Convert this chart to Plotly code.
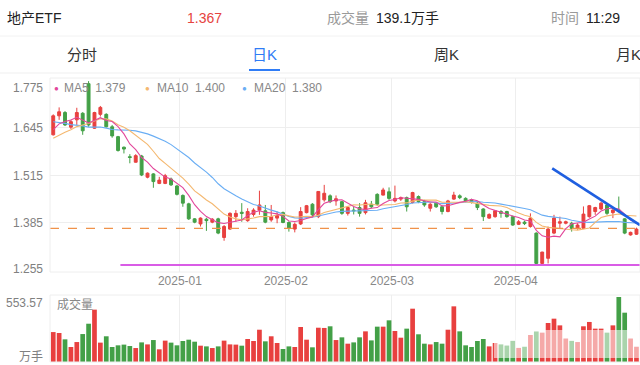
import numpy as np
import plotly.graph_objects as go

# ---------------- data ----------------
prior_close = [1.72, 1.71, 1.73, 1.70, 1.69, 1.72, 1.70, 1.68, 1.71, 1.70,
               1.60, 1.58, 1.59, 1.60, 1.59, 1.61, 1.62, 1.64, 1.65]

open_ = [1.625,1.677,1.686,1.646,1.666,1.684,1.765,1.643,1.681,1.681,
         1.647,1.620,1.591,1.565,1.550,1.567,1.509,1.518,1.492,1.492,
         1.504,1.485,1.459,1.436,1.395,1.381,1.394,1.386,1.395,1.344,
         1.367,1.401,1.413,1.390,1.407,1.419,1.417,1.392,1.397,1.412,
         1.385,1.367,1.381,1.412,1.435,1.401,1.447,1.458,1.444,1.442,
         1.410,1.419,1.426,1.412,1.435,1.462,1.460,1.469,1.444,1.449,
         1.453,1.440,1.456,1.442,1.424,1.438,1.428,1.415,1.449,1.458,
         1.451,1.447,1.438,1.422,1.397,1.401,1.415,1.415,1.401,1.380,
         1.386,1.374,1.356,1.273,1.287,1.356,1.383,1.383,1.383,1.369,
         1.369,1.401,1.415,1.422,1.433,1.412,1.419,1.395,1.351,1.353]
high = [1.681,1.700,1.690,1.666,1.699,1.687,1.772,1.688,1.704,1.684,
        1.652,1.622,1.593,1.572,1.572,1.570,1.522,1.520,1.510,1.518,
        1.508,1.488,1.462,1.439,1.397,1.399,1.398,1.397,1.398,1.378,
        1.413,1.419,1.438,1.424,1.424,1.472,1.433,1.433,1.415,1.415,
        1.388,1.385,1.427,1.433,1.438,1.471,1.488,1.462,1.459,1.444,
        1.428,1.428,1.438,1.447,1.444,1.465,1.480,1.481,1.486,1.456,
        1.456,1.469,1.459,1.447,1.438,1.440,1.431,1.447,1.469,1.462,
        1.454,1.450,1.442,1.424,1.410,1.419,1.419,1.417,1.404,1.392,
        1.390,1.410,1.358,1.305,1.374,1.406,1.401,1.390,1.387,1.383,
        1.429,1.433,1.428,1.442,1.438,1.424,1.456,1.397,1.360,1.371]
low = [1.623,1.666,1.649,1.641,1.652,1.625,1.647,1.641,1.675,1.645,
       1.617,1.579,1.574,1.547,1.549,1.512,1.506,1.480,1.490,1.490,
       1.485,1.459,1.428,1.392,1.383,1.374,1.362,1.383,1.353,1.335,
       1.365,1.387,1.387,1.387,1.401,1.406,1.383,1.387,1.383,1.383,
       1.360,1.358,1.378,1.410,1.401,1.397,1.442,1.438,1.431,1.406,
       1.404,1.407,1.401,1.407,1.424,1.431,1.459,1.447,1.440,1.444,
       1.415,1.437,1.438,1.428,1.415,1.425,1.407,1.413,1.447,1.449,
       1.440,1.437,1.419,1.389,1.395,1.398,1.398,1.398,1.376,1.378,
       1.378,1.371,1.271,1.271,1.273,1.353,1.369,1.380,1.360,1.365,
       1.367,1.398,1.406,1.419,1.406,1.397,1.413,1.353,1.349,1.351]
close = [1.677,1.688,1.652,1.661,1.686,1.636,1.652,1.686,1.700,1.647,
         1.622,1.582,1.586,1.563,1.568,1.515,1.520,1.497,1.501,1.513,
         1.488,1.462,1.438,1.395,1.386,1.397,1.390,1.394,1.356,1.374,
         1.410,1.410,1.410,1.415,1.419,1.433,1.386,1.401,1.404,1.385,
         1.369,1.380,1.415,1.431,1.406,1.470,1.465,1.442,1.450,1.410,
         1.426,1.417,1.410,1.439,1.428,1.435,1.474,1.451,1.451,1.453,
         1.428,1.467,1.442,1.433,1.435,1.428,1.415,1.444,1.460,1.453,
         1.444,1.440,1.426,1.401,1.407,1.417,1.410,1.401,1.378,1.387,
         1.382,1.397,1.273,1.304,1.367,1.397,1.387,1.387,1.369,1.378,
         1.408,1.431,1.426,1.438,1.410,1.419,1.415,1.356,1.358,1.367]
volume = [255,247,193,128,170,238,326,446,165,219,
          128,142,148,136,119,167,150,187,108,182,
          165,142,179,190,173,139,133,119,133,182,
          150,148,139,196,179,275,176,219,162,111,
          133,128,298,190,125,292,290,304,187,210,
          156,167,210,261,184,301,301,355,264,207,
          284,454,236,156,150,170,156,275,474,261,
          142,128,179,196,133,162,150,140,180,120,
          130,230,260,250,332,369,312,200,180,170,
          304,341,284,284,250,312,553.57,420,200,130]

month_ticks = [21.5, 39.5, 57.5, 78.5]
month_labels = ["2025-01", "2025-02", "2025-03", "2025-04"]
price_ticks = [1.775, 1.645, 1.515, 1.385, 1.255]
price_labels = ["1.775", "1.645", "1.515", "1.385", "1.255"]
ref_price = 1.369
support_x = [11.4, 99.6]
support_y = [1.269, 1.269]
trend_x = [84.7, 99.6]
trend_y = [1.533, 1.378]

# ---------------- derived ----------------
RED = "#e8403f"
GREEN = "#43a047"
n = len(close)
x = np.arange(n)
allc = np.array(prior_close + close)
def ma(k):
    return [allc[len(prior_close) + i - k + 1: len(prior_close) + i + 1].mean() for i in range(n)]
ma5, ma10, ma20 = ma(5), ma(10), ma(20)
vcol = [RED if c >= o else GREEN for o, c in zip(open_, close)]

W, H = 640, 365
def px_x(v): return v / W
def px_y(v): return 1 - v / H

fig = go.Figure()
fig.add_trace(go.Candlestick(
    x=x, open=open_, high=high, low=low, close=close,
    increasing=dict(line=dict(color=RED, width=1), fillcolor=RED),
    decreasing=dict(line=dict(color=GREEN, width=1), fillcolor=GREEN),
    whiskerwidth=0, xaxis="x", yaxis="y", hoverinfo="skip"))
for vals, col in [(ma20, "#6aaef4"), (ma10, "#f4b870"), (ma5, "#e2479b")]:
    fig.add_trace(go.Scatter(x=x, y=vals, mode="lines", line=dict(color=col, width=1.1),
                             xaxis="x", yaxis="y", hoverinfo="skip"))
fig.add_trace(go.Scatter(x=[-0.55, 99.6], y=[ref_price, ref_price], mode="lines",
                         line=dict(color="#f0924a", width=1.2, dash="dash"),
                         xaxis="x", yaxis="y"))
fig.add_trace(go.Scatter(x=support_x, y=support_y, mode="lines",
                         line=dict(color="#d95ce6", width=2), xaxis="x", yaxis="y"))
fig.add_trace(go.Scatter(x=trend_x, y=trend_y, mode="lines",
                         line=dict(color="#1f5fe0", width=2.6), xaxis="x", yaxis="y"))
fig.add_trace(go.Bar(x=x, y=volume, marker=dict(color=vcol, line=dict(width=0)),
                     width=0.8, xaxis="x2", yaxis="y2", hoverinfo="skip"))

top_px, bot_px = 78, 272
per_px = 0.52 / 190
y_hi = 1.775 + (80 - top_px) * per_px
y_lo = 1.255 - (bot_px - 270) * per_px
xr = [-0.55, 99.6]
grid = "#eeeeee"

fig.update_layout(
    width=W, height=H, margin=dict(l=0, r=0, t=0, b=0),
    paper_bgcolor="white", plot_bgcolor="white", showlegend=False,
    font=dict(family="Liberation Sans, Noto Sans CJK SC, sans-serif", color="#777", size=12),
    xaxis=dict(domain=[50 / W, 1], range=xr, tickvals=month_ticks, ticktext=month_labels,
               showgrid=True, gridcolor=grid, zeroline=False, ticks="", showline=False,
               rangeslider=dict(visible=False), tickfont=dict(size=12, color="#888"),
               anchor="y", fixedrange=True),
    yaxis=dict(domain=[px_y(bot_px), px_y(top_px)], range=[y_lo, y_hi],
               tickvals=[1.645, 1.515, 1.385], showticklabels=False, showgrid=True,
               gridcolor=grid, zeroline=False, anchor="x"),
    xaxis2=dict(domain=[50 / W, 1], range=xr, tickvals=month_ticks, showticklabels=False,
                showgrid=True, gridcolor=grid, zeroline=False, anchor="y2"),
    yaxis2=dict(domain=[px_y(362), px_y(295)], range=[0, 553.57 * 67 / 65],
                showticklabels=False, showgrid=False, zeroline=False, anchor="x2"),
    bargap=0.2,
)

shapes = []
# chart borders
shapes.append(dict(type="rect", xref="paper", yref="paper", x0=px_x(50), x1=1,
                   y0=px_y(bot_px), y1=px_y(top_px), line=dict(color=grid, width=1)))
shapes.append(dict(type="rect", xref="paper", yref="paper", x0=px_x(50), x1=1,
                   y0=px_y(362), y1=px_y(295), line=dict(color=grid, width=1)))
# header separators
shapes.append(dict(type="line", xref="paper", yref="paper", x0=0, x1=1,
                   y0=px_y(36), y1=px_y(36), line=dict(color="#f2f2f2", width=1)))
shapes.append(dict(type="line", xref="paper", yref="paper", x0=0, x1=1,
                   y0=px_y(73), y1=px_y(73), line=dict(color="#efefef", width=1)))
# active tab underline
shapes.append(dict(type="line", xref="paper", yref="paper", x0=px_x(249), x1=px_x(280),
                   y0=px_y(70), y1=px_y(70), line=dict(color="#2f7cf6", width=2)))
# faded overlay at bottom right of volume
shapes.append(dict(type="rect", xref="paper", yref="paper", x0=px_x(494), x1=1,
                   y0=px_y(358), y1=px_y(330), fillcolor="white", opacity=0.55,
                   line=dict(width=0), layer="above"))
fig.update_layout(shapes=shapes)

ann = []
def text(s, xp, yp, size=12, color="#777", anchor="left", family=None):
    d = dict(text=s, x=px_x(xp), y=px_y(yp), xref="paper", yref="paper", showarrow=False,
             xanchor=anchor, yanchor="middle", font=dict(size=size, color=color))
    if family:
        d["font"]["family"] = family
    ann.append(d)

# header
text("地产ETF", 5, 18, 14, "#222")
text("1.367", 185, 18, 14, "#e64340")
text("成交量", 325, 18, 14, "#9a9a9a")
text("139.1万手", 374, 18, 14, "#222")
text("时间", 549, 18, 14, "#9a9a9a")
text("11:29", 584, 18, 14, "#222")
# tabs
text("分时", 82, 55, 15, "#333", "center")
text("日K", 264, 55, 15, "#2f7cf6", "center")
text("周K", 446, 55, 15, "#333", "center")
text("月K", 628, 55, 15, "#333", "center")
# price labels
label_px = [88, 128.5, 176, 222.5, 269]
for lab, yp in zip(price_labels, label_px):
    text(lab, 45, yp, 12, "#808080", "right")
# legend
text('<span style="color:#e2479b">●</span>', 52, 88, 8, "#e2479b")
text("MA5  1.379", 62, 88, 12, "#888")
text('<span style="color:#f4b870">●</span>', 143, 88, 8, "#f4b870")
text("MA10  1.400", 155, 88, 12, "#888")
text('<span style="color:#6aaef4">●</span>', 240, 88, 8, "#6aaef4")
text("MA20  1.380", 252, 88, 12, "#888")
# volume labels
text("553.57", 45, 303, 12, "#808080", "right")
text("万手", 45, 357, 12, "#808080", "right")
text("成交量", 55, 304, 12, "#888")
fig.update_layout(annotations=ann)

fig.write_html("out.html")
